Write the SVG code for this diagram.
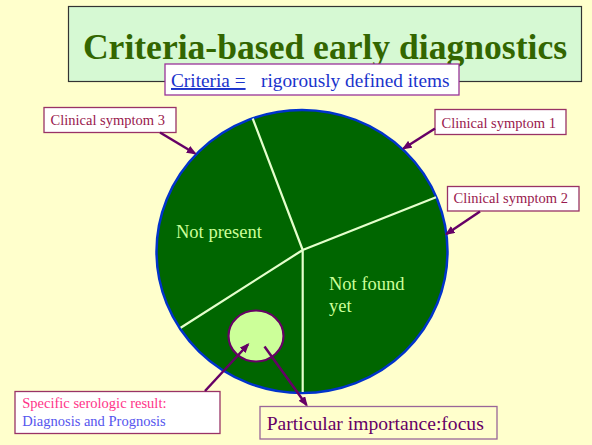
<svg xmlns="http://www.w3.org/2000/svg" width="592" height="445" viewBox="0 0 592 445">
<defs>
<style>
text{font-family:"Liberation Serif","Times New Roman",serif}
.lbl{fill:#fff;stroke:#993366;stroke-width:1.3}
.cs{font-size:14.5px;fill:#99194d}
.div{stroke:#e4ffcc;stroke-width:2.2;fill:none}
.arr{stroke:#660066;stroke-width:2.5;fill:none;marker-end:url(#ah)}
.inner{font-size:18.5px;fill:#ccff99}
</style>
<marker id="ah" markerWidth="10" markerHeight="8" refX="8" refY="4" orient="auto" markerUnits="userSpaceOnUse">
<path d="M0,0 L10,4 L0,8 z" fill="#660066"/>
</marker>
</defs>
<rect width="592" height="445" fill="#ffffcc"/>

<g id="title">
<rect x="68.5" y="6.5" width="513" height="75" fill="#d6f9d3" stroke="#333" stroke-width="1.2"/>
<text x="325" y="59" text-anchor="middle" font-size="35.6" font-weight="bold" fill="#336600">Criteria-based early diagnostics</text>
</g>

<g id="subtitle">
<rect x="165" y="64" width="294" height="31" fill="#fff" stroke="#993399" stroke-width="1.3"/>
<text x="171" y="87" font-size="19.3" fill="#1a33cc" text-decoration="underline">Criteria =</text>
<text x="261" y="87" font-size="19.3" fill="#1a33cc">rigorously defined items</text>
</g>

<g id="pie">
<ellipse cx="302" cy="251.5" rx="145.5" ry="141.5" fill="#006600" stroke="#0033cc" stroke-width="2.5"/>
<path class="div" d="M302.7,250 L252.7,118.5 M302.7,250 L436,197.3 M302.7,250 L302.7,392 M302.7,250 L180.7,327.7"/>
<text class="inner" x="176" y="238">Not present</text>
<text class="inner" x="329" y="290">Not found</text>
<text class="inner" x="329" y="312">yet</text>
</g>

<g id="serology-circle">
<ellipse cx="256" cy="336" rx="27.5" ry="25.5" fill="#ccff99" stroke="#660066" stroke-width="2.2"/>
</g>

<g id="cs3">
<rect class="lbl" x="44" y="107.5" width="132" height="25"/>
<text class="cs" x="50.5" y="125">Clinical symptom 3</text>
</g>

<g id="cs1">
<rect class="lbl" x="435" y="109.5" width="131" height="25"/>
<text class="cs" x="441.5" y="127.5">Clinical symptom 1</text>
</g>

<g id="cs2">
<rect class="lbl" x="447.5" y="186.5" width="131.5" height="24.5"/>
<text class="cs" x="453.5" y="202.5">Clinical symptom 2</text>
</g>

<g id="serologic">
<rect class="lbl" x="15" y="391.5" width="205" height="42"/>
<text x="22.3" y="408.3" font-size="14.5" fill="#ff3388">Specific serologic result:</text>
<text x="22.3" y="426" font-size="14.5" fill="#5555ee">Diagnosis and Prognosis</text>
</g>

<g id="focus">
<rect x="260" y="406.5" width="237" height="32.5" fill="#ffffcc" stroke="#996699" stroke-width="1.3"/>
<text x="266.7" y="430" font-size="19.6" fill="#660066">Particular importance:focus</text>
</g>

<g id="connectors">
<line class="arr" x1="160" y1="132.5" x2="195" y2="153.5"/>
<line class="arr" x1="435" y1="128.5" x2="403.5" y2="148.5"/>
<line class="arr" x1="480" y1="211.5" x2="446.5" y2="234"/>
<line class="arr" x1="205" y1="391" x2="248" y2="344.5"/>
<line class="arr" x1="264.5" y1="346.5" x2="306.5" y2="405"/>
</g>
</svg>
